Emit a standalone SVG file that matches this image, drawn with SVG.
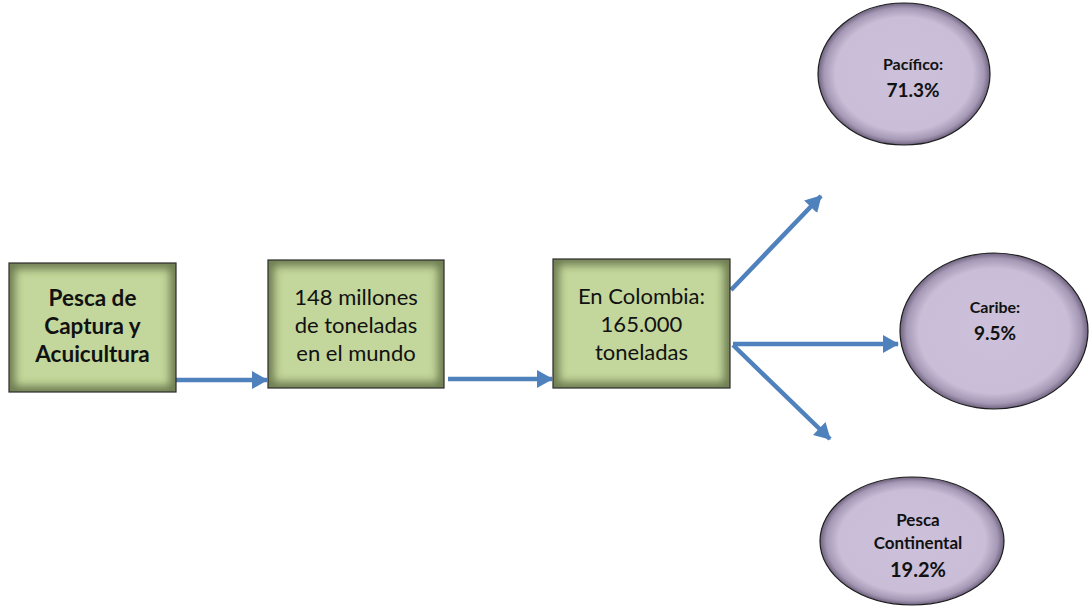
<svg xmlns="http://www.w3.org/2000/svg" width="1089" height="607" viewBox="0 0 1089 607">
<style>
.box{fill:#c3d69b}
.frame{fill:none;stroke:#2b2b2b;stroke-width:1.2}
.ell{fill:url(#gp);stroke:#1e1e1e;stroke-width:1.2}
.t{font-family:Lato,"Open Sans","Liberation Sans",sans-serif;fill:#111;text-anchor:middle}
.big{font-size:22px}
.bigb{font-size:22.5px;font-weight:bold}
.b{font-weight:bold}
.conn{stroke:#4f81bd;stroke-width:4.5;fill:none;marker-end:url(#ah)}
.edge{fill:none;stroke:#3e4828;stroke-width:12;filter:url(#bl);opacity:0.65}
</style>
<defs>
<filter id="bl" x="-20%" y="-20%" width="140%" height="140%">
<feGaussianBlur stdDeviation="4"/>
</filter>
<radialGradient id="gp" cx="50%" cy="50%" r="50%">
<stop offset="0" stop-color="#ccc0da"/>
<stop offset="0.8" stop-color="#c9bdd7"/>
<stop offset="0.93" stop-color="#a598b5"/>
<stop offset="1" stop-color="#6e6380"/>
</radialGradient>
<clipPath id="c1"><rect x="9" y="263" width="167" height="129"/></clipPath>
<clipPath id="c2"><rect x="268" y="260" width="176" height="128"/></clipPath>
<clipPath id="c3"><rect x="553" y="259" width="177" height="129"/></clipPath>
<marker id="ah" markerUnits="userSpaceOnUse" markerWidth="17" markerHeight="18" refX="15" refY="9" orient="auto">
<path d="M0,0 L16,9 L0,18 z" fill="#4f81bd"/>
</marker>
</defs>
<g id="connectors">
<line class="conn" x1="176" y1="380" x2="267" y2="380"/>
<line class="conn" x1="448" y1="379" x2="552" y2="379"/>
<line class="conn" x1="731" y1="290" x2="821" y2="196"/>
<line class="conn" x1="733" y1="344" x2="898" y2="344"/>
<line class="conn" x1="733" y1="345" x2="830" y2="439"/>
</g>
<g id="n1">
<rect class="box" x="9" y="263" width="167" height="129"/>
<rect class="edge" x="9" y="263" width="167" height="129" clip-path="url(#c1)"/>
<rect class="frame" x="9" y="263" width="167" height="129"/>
<text class="t bigb" x="92.5" y="306">Pesca de</text>
<text class="t bigb" x="92.5" y="334">Captura y</text>
<text class="t bigb" x="92.5" y="362">Acuicultura</text>
</g>
<g id="n2">
<rect class="box" x="268" y="260" width="176" height="128"/>
<rect class="edge" x="268" y="260" width="176" height="128" clip-path="url(#c2)"/>
<rect class="frame" x="268" y="260" width="176" height="128"/>
<text class="t big" x="356" y="305">148 millones</text>
<text class="t big" x="356" y="333">de toneladas</text>
<text class="t big" x="356" y="361">en el mundo</text>
</g>
<g id="n3">
<rect class="box" x="553" y="259" width="177" height="129"/>
<rect class="edge" x="553" y="259" width="177" height="129" clip-path="url(#c3)"/>
<rect class="frame" x="553" y="259" width="177" height="129"/>
<text class="t big" x="641.5" y="304">En Colombia:</text>
<text class="t big" x="641.5" y="332">165.000</text>
<text class="t big" x="641.5" y="360">toneladas</text>
</g>
<g id="e1">
<ellipse class="ell" cx="904" cy="74" rx="86" ry="71"/>
<text class="t b" x="913" y="70" font-size="16">Pacífico:</text>
<text class="t b" x="913" y="97" font-size="19">71.3%</text>
</g>
<g id="e2">
<ellipse class="ell" cx="994" cy="331" rx="94" ry="78"/>
<text class="t b" x="995" y="313" font-size="16">Caribe:</text>
<text class="t b" x="995" y="340" font-size="19">9.5%</text>
</g>
<g id="e3">
<ellipse class="ell" cx="912" cy="541" rx="92" ry="64"/>
<text class="t b" x="918" y="526" font-size="17">Pesca</text>
<text class="t b" x="918" y="549" font-size="17">Continental</text>
<text class="t b" x="918" y="577" font-size="20">19.2%</text>
</g>
</svg>
